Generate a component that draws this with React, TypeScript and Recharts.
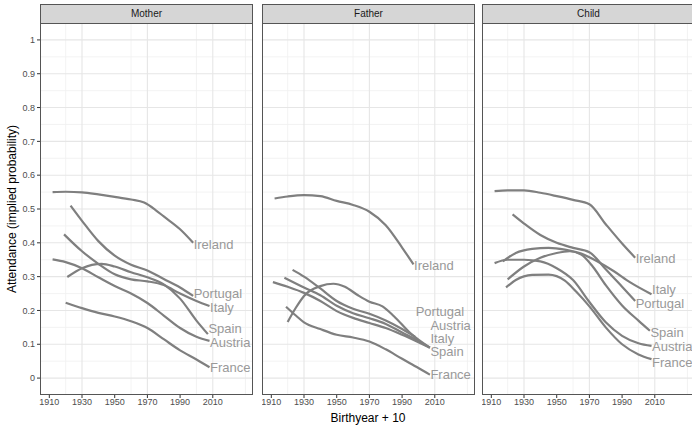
import React from 'react';
import { LineChart, Line, XAxis, YAxis, CartesianGrid, LabelList } from 'recharts';

// Birthyear + 10 vs attendance, one [year, value] pair per point
const MOTHER_IRELAND = [[1912, 0.55], [1920, 0.551], [1930, 0.549], [1940, 0.543], [1950, 0.536], [1960, 0.528], [1968, 0.519], [1975, 0.497], [1980, 0.478], [1990, 0.44], [1998, 0.40]];
const MOTHER_PORTUGAL = [[1923, 0.51], [1930, 0.465], [1940, 0.405], [1950, 0.362], [1960, 0.335], [1970, 0.318], [1980, 0.293], [1990, 0.268], [1998, 0.243]];
const MOTHER_ITALY = [[1919, 0.425], [1930, 0.375], [1940, 0.338], [1950, 0.307], [1960, 0.292], [1970, 0.286], [1980, 0.275], [1990, 0.25], [2000, 0.228], [2008, 0.213]];
const MOTHER_SPAIN = [[1921, 0.299], [1930, 0.325], [1942, 0.338], [1950, 0.33], [1960, 0.313], [1970, 0.298], [1980, 0.277], [1990, 0.235], [2000, 0.17], [2007, 0.13]];
const MOTHER_AUSTRIA = [[1912, 0.351], [1920, 0.343], [1930, 0.325], [1940, 0.298], [1950, 0.272], [1960, 0.25], [1970, 0.222], [1980, 0.185], [1990, 0.148], [2000, 0.122], [2008, 0.11]];
const MOTHER_FRANCE = [[1920, 0.223], [1930, 0.207], [1940, 0.193], [1950, 0.182], [1960, 0.168], [1970, 0.148], [1980, 0.115], [1990, 0.082], [2000, 0.055], [2008, 0.032]];

const FATHER_IRELAND = [[1912, 0.531], [1920, 0.537], [1930, 0.541], [1940, 0.538], [1950, 0.524], [1960, 0.512], [1970, 0.492], [1980, 0.452], [1990, 0.386], [1997, 0.336]];
const FATHER_PORTUGAL = [[1923, 0.32], [1930, 0.3], [1940, 0.265], [1950, 0.228], [1960, 0.205], [1970, 0.19], [1980, 0.17], [1990, 0.145], [1998, 0.122]];
const FATHER_ITALY = [[1918, 0.297], [1930, 0.268], [1940, 0.245], [1950, 0.214], [1960, 0.192], [1970, 0.177], [1980, 0.16], [1990, 0.135], [2000, 0.11], [2007, 0.09]];
const FATHER_SPAIN = [[1920, 0.166], [1925, 0.208], [1930, 0.243], [1940, 0.272], [1948, 0.279], [1955, 0.27], [1963, 0.245], [1970, 0.226], [1978, 0.212], [1985, 0.183], [1995, 0.133], [2007, 0.09]];
const FATHER_AUSTRIA = [[1911, 0.284], [1920, 0.27], [1930, 0.252], [1940, 0.228], [1950, 0.198], [1960, 0.178], [1970, 0.163], [1980, 0.148], [1990, 0.128], [2000, 0.106], [2007, 0.09]];
const FATHER_FRANCE = [[1919, 0.211], [1925, 0.185], [1930, 0.165], [1940, 0.145], [1950, 0.128], [1960, 0.12], [1970, 0.108], [1980, 0.085], [1990, 0.057], [2000, 0.03], [2007, 0.01]];

const CHILD_IRELAND = [[1912, 0.553], [1920, 0.555], [1930, 0.555], [1940, 0.548], [1950, 0.538], [1960, 0.527], [1970, 0.514], [1980, 0.455], [1990, 0.398], [1998, 0.356]];
const CHILD_PORTUGAL = [[1923, 0.484], [1930, 0.457], [1940, 0.423], [1950, 0.4], [1960, 0.385], [1970, 0.372], [1980, 0.322], [1990, 0.27], [1998, 0.228]];
const CHILD_ITALY = [[1917, 0.345], [1925, 0.37], [1935, 0.382], [1945, 0.385], [1955, 0.38], [1965, 0.368], [1975, 0.345], [1985, 0.316], [1995, 0.283], [2008, 0.248]];
const CHILD_SPAIN = [[1920, 0.292], [1930, 0.33], [1940, 0.356], [1950, 0.37], [1958, 0.375], [1965, 0.365], [1972, 0.33], [1980, 0.275], [1990, 0.215], [2000, 0.17], [2007, 0.14]];
const CHILD_AUSTRIA = [[1912, 0.34], [1920, 0.35], [1930, 0.35], [1940, 0.345], [1950, 0.325], [1960, 0.29], [1970, 0.225], [1980, 0.165], [1990, 0.125], [2000, 0.103], [2008, 0.095]];
const CHILD_FRANCE = [[1919, 0.268], [1925, 0.29], [1935, 0.305], [1945, 0.306], [1955, 0.288], [1962, 0.255], [1970, 0.212], [1980, 0.15], [1990, 0.1], [2000, 0.07], [2008, 0.056]];

const COUNTRIES = ['Ireland', 'Portugal', 'Italy', 'Spain', 'Austria', 'France'];
const PANEL_TITLES = ['Mother', 'Father', 'Child'];
const PANEL_SERIES = [
  [MOTHER_IRELAND, MOTHER_PORTUGAL, MOTHER_ITALY, MOTHER_SPAIN, MOTHER_AUSTRIA, MOTHER_FRANCE],
  [FATHER_IRELAND, FATHER_PORTUGAL, FATHER_ITALY, FATHER_SPAIN, FATHER_AUSTRIA, FATHER_FRANCE],
  [CHILD_IRELAND, CHILD_PORTUGAL, CHILD_ITALY, CHILD_SPAIN, CHILD_AUSTRIA, CHILD_FRANCE],
];

const X_TICKS = [1910, 1930, 1950, 1970, 1990, 2010];
const X_MINOR = [1920, 1940, 1960, 1980, 2000, 2020, 2030];
const Y_TICKS = [0, 0.1, 0.2, 0.3, 0.4, 0.5, 0.6, 0.7, 0.8, 0.9, 1];
const Y_MINOR = [0.05, 0.15, 0.25, 0.35, 0.45, 0.55, 0.65, 0.75, 0.85, 0.95];

// nudges (px) that keep the end labels apart
const LABEL_NUDGE = [
  { Ireland: 2, Portugal: -2, Italy: 1, Spain: -6, Austria: 2, France: 0 },
  { Ireland: 1, Portugal: -25, Italy: -9, Spain: 4, Austria: -22, France: 0 },
  { Ireland: 1, Portugal: 3, Italy: -5, Spain: 2, Austria: 1, France: 3 },
];

const FONT = '"Liberation Sans", Arial, Helvetica, sans-serif';
const LINE_COLOR = '#7f7f7f';
const LABEL_COLOR = '#999999';
const X_DOMAIN = [1904.3, 2034.6];
const Y_DOMAIN = [-0.05, 1.05];

const PANEL_LEFT = [40, 262, 482];
const PANEL_W = 213;
const PANEL_TOP = 23;
const PANEL_BOTTOM = 395;
const H = 427;

function endLabel(name: string, count: number, nudge: number) {
  return (props: any) => {
    if (props.index !== count - 1) return null;
    return (
      <text
        x={props.x + 0.5}
        y={props.y + nudge}
        dominantBaseline="central"
        fill={LABEL_COLOR}
        fontSize={13}
        fontFamily={FONT}
      >
        {name}
      </text>
    );
  };
}

function Panel({ idx }: { idx: number }) {
  const first = idx === 0;
  const yw = first ? 40 : 0;
  return (
    <div style={{ position: 'absolute', left: PANEL_LEFT[idx] - yw, top: 0 }}>
      <LineChart
        width={PANEL_W + yw}
        height={H}
        margin={{ top: PANEL_TOP, right: 0, bottom: 0, left: 0 }}
        style={{ overflow: 'visible' }}
      >
        <CartesianGrid
          stroke="#f0f0f0"
          strokeWidth={0.8}
          verticalValues={X_MINOR}
          horizontalValues={Y_MINOR}
        />
        <CartesianGrid
          stroke="#e6e6e6"
          strokeWidth={1.1}
          verticalValues={X_TICKS}
          horizontalValues={Y_TICKS}
        />
        <XAxis
          type="number"
          dataKey="year"
          domain={X_DOMAIN}
          ticks={X_TICKS}
          allowDataOverflow
          height={H - PANEL_BOTTOM}
          axisLine={false}
          tickSize={3}
          tickMargin={1}
          tickLine={{ stroke: '#333333' }}
          tick={{ fill: '#4d4d4d', fontSize: 9, fontFamily: FONT }}
        />
        <YAxis
          type="number"
          domain={Y_DOMAIN}
          ticks={Y_TICKS}
          allowDataOverflow
          hide={!first}
          width={yw}
          axisLine={false}
          tickSize={3}
          tickMargin={2}
          tickLine={{ stroke: '#333333' }}
          tick={{ fill: '#4d4d4d', fontSize: 9, fontFamily: FONT }}
          tickFormatter={(v: number) => String(v)}
        />
        {PANEL_SERIES[idx].map((pts, i) => {
          const name = COUNTRIES[i];
          const data = pts.map(([year, v]) => ({ year, v }));
          const nudge = (LABEL_NUDGE[idx] as any)[name];
          return (
            <Line
              key={name}
              data={data}
              dataKey="v"
              type="monotone"
              stroke={LINE_COLOR}
              strokeWidth={2.2}
              dot={false}
              activeDot={false}
              isAnimationActive={false}
            >
              <LabelList dataKey="v" content={endLabel(name, data.length, nudge)} />
            </Line>
          );
        })}
      </LineChart>
      {/* panel border */}
      <div
        style={{
          position: 'absolute',
          left: yw,
          top: PANEL_TOP,
          width: PANEL_W,
          height: PANEL_BOTTOM - PANEL_TOP,
          border: '1px solid #555555',
          boxSizing: 'border-box',
          pointerEvents: 'none',
        }}
      />
      {/* facet strip */}
      <div
        style={{
          position: 'absolute',
          left: yw,
          top: 4,
          width: PANEL_W,
          height: PANEL_TOP - 4 + 1,
          border: '1px solid #555555',
          boxSizing: 'border-box',
          background: '#d6d6d6',
          color: '#1a1a1a',
          fontFamily: FONT,
          fontSize: 10,
          lineHeight: `${PANEL_TOP - 6}px`,
          textAlign: 'center',
        }}
      >
        {PANEL_TITLES[idx]}
      </div>
    </div>
  );
}

export default function App() {
  return (
    <div style={{ position: 'relative', width: 692, height: 427, overflow: 'hidden', background: '#fff' }}>
      <style>{'body{margin:0}'}</style>
      {PANEL_TITLES.map((_, i) => (
        <Panel key={i} idx={i} />
      ))}
      <div
        style={{
          position: 'absolute',
          left: 0,
          width: 736,
          top: 411,
          textAlign: 'center',
          fontFamily: FONT,
          fontSize: 12,
          color: '#000',
        }}
      >
        Birthyear + 10
      </div>
      <div
        style={{
          position: 'absolute',
          left: 12,
          top: 209,
          transform: 'translate(-50%, -50%) rotate(-90deg)',
          whiteSpace: 'nowrap',
          fontFamily: FONT,
          fontSize: 12,
          color: '#000',
        }}
      >
        Attendance (implied probability)
      </div>
    </div>
  );
}
